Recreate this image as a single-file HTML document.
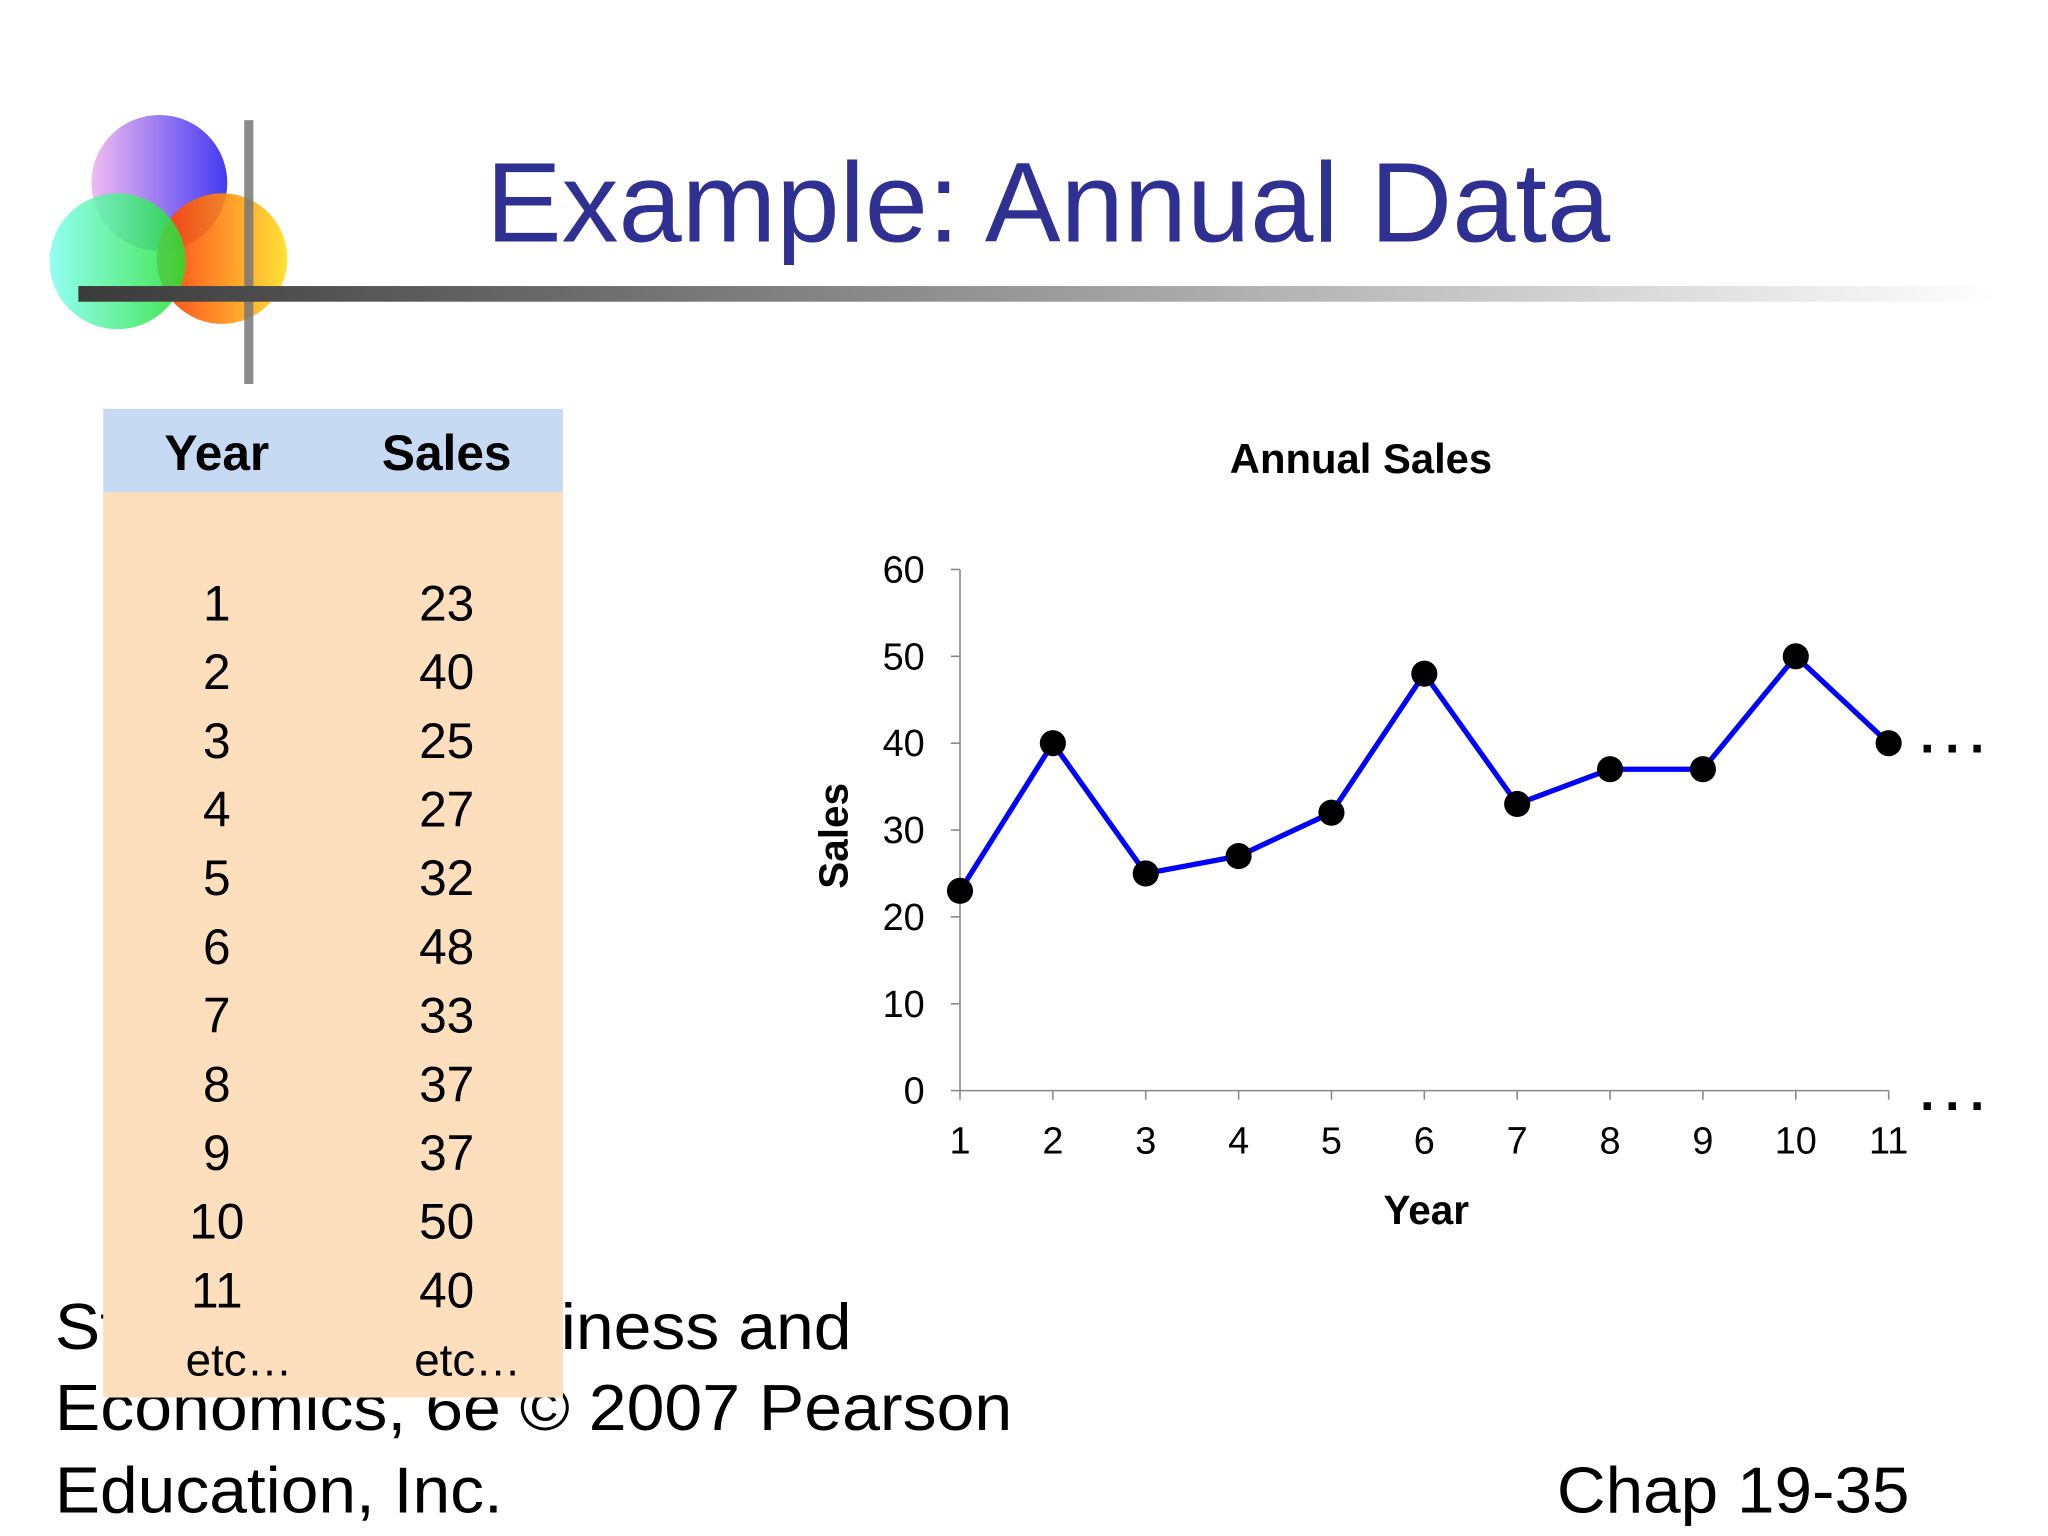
<!DOCTYPE html>
<html><head><meta charset="utf-8"><style>
html,body{margin:0;padding:0;background:#fff;}
svg{display:block;font-family:"Liberation Sans",Arial,sans-serif;}
</style></head><body>
<svg width="2048" height="1536" viewBox="0 0 1568 1176">
<defs>
<linearGradient id="bar" x1="0" x2="1"><stop offset="0" stop-color="#3a3a3a"/><stop offset="0.5" stop-color="#9a9a9a"/><stop offset="1" stop-color="#fff"/></linearGradient>
<linearGradient id="gp" x1="0" x2="1"><stop offset="0" stop-color="#f0b8f0"/><stop offset="1" stop-color="#3a30f0"/></linearGradient>
<linearGradient id="gg" x1="0" x2="1"><stop offset="0" stop-color="#80fff0"/><stop offset="1" stop-color="#20e030"/></linearGradient>
<linearGradient id="go" x1="0" x2="1"><stop offset="0" stop-color="#ff3000"/><stop offset="1" stop-color="#ffe020"/></linearGradient>
</defs>
<g>
<circle cx="122" cy="140" r="52" fill="url(#gp)" opacity="0.95"/>
<circle cx="170" cy="198" r="50" fill="url(#go)" opacity="0.9"/>
<circle cx="90" cy="200" r="52" fill="url(#gg)" opacity="0.85"/>
<rect x="187" y="92" width="7" height="202" fill="#777" opacity="0.85"/>
</g>
<rect x="60" y="219" width="1470" height="12" fill="url(#bar)"/>
<text x="372" y="185" font-size="87" fill="#2E3192">Example: Annual Data</text>
<g font-size="50" fill="#000">
<text x="42" y="1033" textLength="610" lengthAdjust="spacingAndGlyphs">Statistics for Business and</text>
<text x="42" y="1095" textLength="733" lengthAdjust="spacingAndGlyphs">Economics, 6e © 2007 Pearson</text>
<text x="42" y="1158" textLength="343" lengthAdjust="spacingAndGlyphs">Education, Inc.</text>
<text x="1192" y="1158" textLength="270" lengthAdjust="spacingAndGlyphs">Chap 19-35</text>
</g>
<g>
<rect x="79" y="313" width="352" height="64" fill="#C6DBF3"/>
<rect x="79" y="377" width="352" height="693" fill="#FDDFBD"/>
<text x="166" y="360" font-size="38" font-weight="bold" text-anchor="middle">Year</text>
<text x="342" y="360" font-size="38" font-weight="bold" text-anchor="middle">Sales</text>
<g id="rows" font-size="38" text-anchor="middle"></g>
<text x="183" y="1053" font-size="35" text-anchor="middle">etc…</text>
<text x="358" y="1053" font-size="35" text-anchor="middle">etc…</text>
</g>
<g id="chart">
<text x="1042" y="362" font-size="32" font-weight="bold" text-anchor="middle">Annual Sales</text>
<text x="1092" y="937" font-size="31" font-weight="bold" text-anchor="middle">Year</text>
<text transform="translate(649,640) rotate(-90)" font-size="31" font-weight="bold" text-anchor="middle">Sales</text>
<text x="1470" y="576" font-size="40" font-weight="bold" letter-spacing="8">...</text>
<text x="1470" y="850" font-size="40" font-weight="bold" letter-spacing="8">...</text>
</g>
</svg>
<script>
const years=[1,2,3,4,5,6,7,8,9,10,11];
const sales=[23,40,25,27,32,48,33,37,37,50,40];
const yTicks=[0,10,20,30,40,50,60];
const NS="http://www.w3.org/2000/svg";
function mk(t,a,p){const e=document.createElementNS(NS,t);for(const k in a)e.setAttribute(k,a[k]);p.appendChild(e);return e;}
const rows=document.getElementById('rows');
years.forEach((y,i)=>{
 const by=475+i*52.6;
 const a=mk('text',{x:166,y:by},rows);a.textContent=y;
 
 
 const b=mk('text',{x:342,y:by},rows);b.textContent=sales[i];
 
 
});
const g=document.getElementById('chart');
const x0=735,x1=1446,y0=835,y1=436;
const X=v=>x0+(v-1)*(x1-x0)/10;
const Y=v=>y0-v*(y0-y1)/60;
const ya=mk('line',{x1:x0,y1:y1,x2:x0,y2:y0,stroke:'#888','stroke-width':1.2},g);


const xa=mk('line',{x1:x0,y1:y0,x2:x1,y2:y0,stroke:'#888','stroke-width':1.2},g);


yTicks.forEach(v=>{
 mk('line',{x1:x0-7,y1:Y(v),x2:x0,y2:Y(v),stroke:'#888','stroke-width':1.2},g);
 const t=mk('text',{x:708,y:Y(v)+10,'font-size':29,'text-anchor':'end'},g);t.textContent=v;
 
 
});
years.forEach(v=>{
 mk('line',{x1:X(v),y1:y0,x2:X(v),y2:y0+7,stroke:'#888','stroke-width':1.2},g);
 const t=mk('text',{x:X(v),y:883,'font-size':29,'text-anchor':'middle'},g);t.textContent=v;
 
 
});
const ln=mk('polyline',{points:years.map((y,i)=>X(y)+','+Y(sales[i])).join(' '),fill:'none',stroke:'#0000FF','stroke-width':4},g);


years.forEach((y,i)=>{
 const c=mk('circle',{cx:X(y),cy:Y(sales[i]),r:10,fill:'#000'},g);
 
 
});
</script>
</body></html>
